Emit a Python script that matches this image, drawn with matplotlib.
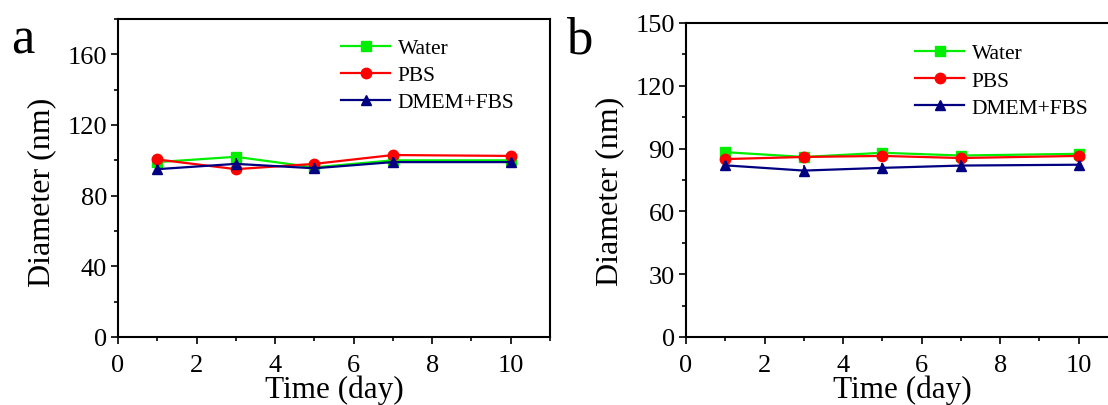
import matplotlib
matplotlib.use("Agg")
import matplotlib.pyplot as plt
from matplotlib.ticker import MultipleLocator

plt.rcParams['font.family'] = ['Liberation Serif', 'DejaVu Serif']

# Time points (day)
days = [1, 3, 5, 7, 10]

# Panel a
a_water = [99, 102, 96, 100, 100]
a_pbs = [100.5, 95, 98, 103, 102.5]
a_dmem = [95, 98, 95.5, 99, 99]
a_err_water = [1.5, 1.5, 1.5, 1.5, 1.5]
a_err_pbs = [1.5, 2.0, 1.5, 1.5, 1.5]
a_err_dmem = [2.5, 3.5, 3.0, 3.0, 2.5]

# Panel b
b_water = [88.3, 86, 88, 86.7, 87.5]
b_pbs = [85, 86, 86.5, 85.5, 86.5]
b_dmem = [82, 79.5, 80.8, 81.9, 82.3]
b_err_water = [1.0, 1.0, 1.0, 1.0, 1.0]
b_err_pbs = [1.0, 1.5, 1.5, 2.0, 1.5]
b_err_dmem = [2.0, 2.5, 2.5, 2.5, 2.0]

labels = ["Water", "PBS", "DMEM+FBS"]
colors = ["#00ee00", "#ff0000", "#000080"]
markers = ["s", "o", "^"]

fig = plt.figure(figsize=(11.08, 4.06), dpi=100)
ax_a = fig.add_axes([118 / 1108, 1 - 338 / 406, 432 / 1108, 318 / 406])
ax_b = fig.add_axes([686 / 1108, 1 - 338 / 406, 432 / 1108, 314 / 406])


def draw_panel(ax, series, errs, ylim, ymajor, yminor, legend_pos, ylab_y, letter, letter_x):
    for vals, err, lab, col, mk in zip(series, errs, labels, colors, markers):
        ax.errorbar(days, vals, yerr=err, fmt='none', ecolor=col, elinewidth=1.2)
        ax.plot(days, vals, color=col, marker=mk, markersize=7.5,
                linewidth=1.6, label=lab)
    ax.set_xlim(0, 11)
    ax.set_ylim(*ylim)
    ax.xaxis.set_major_locator(MultipleLocator(2))
    ax.xaxis.set_minor_locator(MultipleLocator(1))
    ax.yaxis.set_major_locator(MultipleLocator(ymajor))
    ax.yaxis.set_minor_locator(MultipleLocator(yminor))
    ax.tick_params(which='major', direction='out', length=5, width=1.2,
                   labelsize=19, pad=3)
    ax.tick_params(axis='x', which='major', pad=7)
    ax.tick_params(which='minor', direction='out', length=3, width=1.2)
    for sp in ax.spines.values():
        sp.set_linewidth(1.5)
    ax.set_xlabel("Time (day)", fontsize=22.5, labelpad=-1)
    ax.set_ylabel("Diameter (nm)", fontsize=23)
    ax.yaxis.set_label_coords(-0.143, ylab_y)
    ax.legend(loc='upper left', bbox_to_anchor=legend_pos, frameon=False,
              fontsize=15.5, handlelength=2.3, handletextpad=0.33,
              labelspacing=0.33, borderaxespad=0, borderpad=0)
    fig.text(letter_x, 1 - 40 / 406, letter, fontsize=38, ha='left', va='center')


draw_panel(ax_a, [a_water, a_pbs, a_dmem], [a_err_water, a_err_pbs, a_err_dmem],
           (0, 180), 40, 20, (0.516, 0.94), 0.459, "a", 11 / 1108)
draw_panel(ax_b, [b_water, b_pbs, b_dmem], [b_err_water, b_err_pbs, b_err_dmem],
           (0, 150), 30, 15, (0.53, 0.935), 0.468, "b", 566 / 1108)

fig.savefig("out.png", dpi=100)
